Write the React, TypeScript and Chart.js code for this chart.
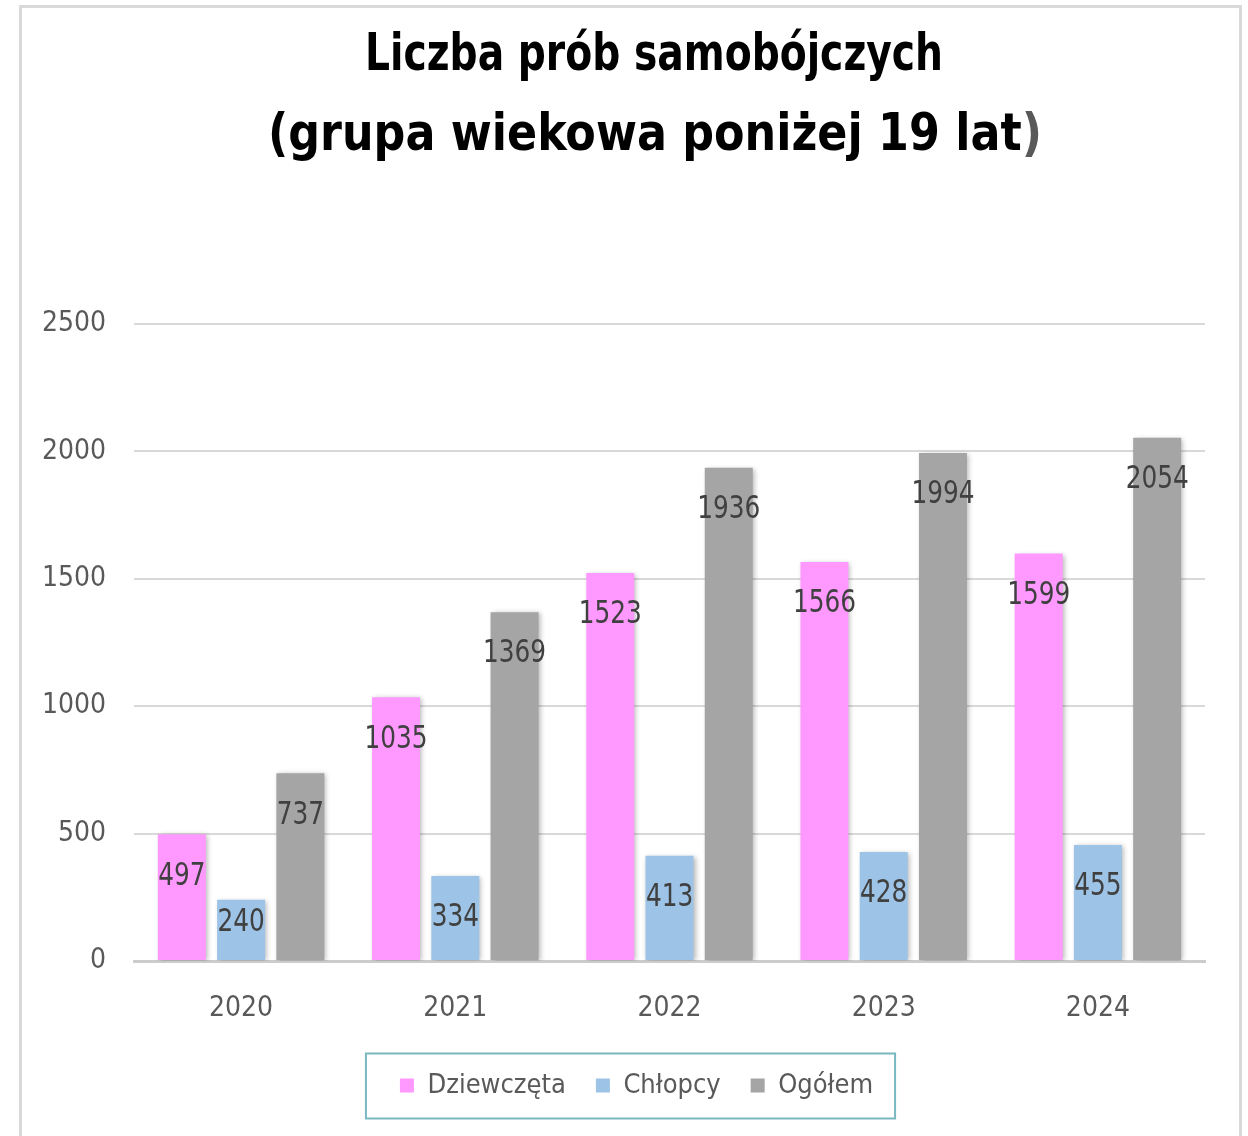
import React, { useEffect, useRef } from "react";
import { Chart, registerables } from "chart.js";

Chart.register(...registerables);

const categories = ["2020", "2021", "2022", "2023", "2024"];
const girls = [497, 1035, 1523, 1566, 1599];
const boys = [240, 334, 413, 428, 455];
const total = [737, 1369, 1936, 1994, 2054];
const seriesNames = ["Dziewczęta", "Chłopcy", "Ogółem"];
const titleLine1 = "Liczba prób samobójczych";
const titleLine2 = "(grupa wiekowa poniżej 19 lat";
const titleLine2End = ")";

const FONT = "'DejaVu Sans Condensed', 'DejaVu Sans', sans-serif";

const framePlugin = {
  id: "frame",
  beforeDraw(chart: any) {
    const ctx = chart.ctx;
    ctx.save();
    ctx.fillStyle = "#ffffff";
    ctx.fillRect(0, 0, chart.width, chart.height);
    ctx.strokeStyle = "#d9d9d9";
    ctx.lineWidth = 3;
    ctx.strokeRect(20.5, 6.5, 1220, chart.height + 20);
    ctx.restore();
  },
  afterLayout(chart: any) {
    const lg = chart.legend;
    if (lg) {
      lg.left += 19;
      lg.right += 19;
    }
  },
  afterDraw(chart: any) {
    const ctx = chart.ctx;
    ctx.save();
    ctx.textBaseline = "middle";
    ctx.textAlign = "left";
    ctx.font = `bold 52px ${FONT}`;
    const w1 = ctx.measureText(titleLine1).width;
    const sx1 = 578 / w1;
    const w2a = ctx.measureText(titleLine2).width;
    const w2b = ctx.measureText(titleLine2End).width;
    const sx2 = 774 / (w2a + w2b);
    ctx.save();
    ctx.translate(654, 56);
    ctx.scale(sx1, 1);
    ctx.fillStyle = "#000000";
    ctx.fillText(titleLine1, -w1 / 2, 0);
    ctx.restore();
    ctx.save();
    ctx.translate(655, 136);
    ctx.scale(sx2, 1);
    const start = -(w2a + w2b) / 2;
    ctx.fillStyle = "#000000";
    ctx.fillText(titleLine2, start, 0);
    ctx.fillStyle = "#595959";
    ctx.fillText(titleLine2End, start + w2a, 0);
    ctx.restore();
    // legend border
    const lg = chart.legend;
    if (lg && lg.legendHitBoxes && lg.legendHitBoxes.length) {
      const boxes = lg.legendHitBoxes;
      const l = boxes[0].left;
      const last = boxes[boxes.length - 1];
      const r = last.left + last.width;
      const cy = boxes[0].top + boxes[0].height / 2;
      ctx.strokeStyle = "#78b8c0";
      ctx.lineWidth = 2;
      ctx.strokeRect(l - 34, cy - 32, r - l + 56, 65);
    }
    ctx.restore();
  },
};

const shadowPlugin = {
  id: "barShadow",
  beforeDatasetsDraw(chart: any) {
    const ctx = chart.ctx;
    ctx.save();
    ctx.shadowColor = "rgba(0,0,0,0.28)";
    ctx.shadowBlur = 5;
    ctx.shadowOffsetX = 2;
    ctx.shadowOffsetY = 1;
  },
  afterDatasetsDraw(chart: any) {
    chart.ctx.restore();
    const ctx = chart.ctx;
    ctx.save();
    ctx.fillStyle = "#404040";
    ctx.textAlign = "left";
    ctx.textBaseline = "middle";
    ctx.font = `32px ${FONT}`;
    const sx = 63 / ctx.measureText("1936").width;
    chart.data.datasets.forEach((ds: any, di: number) => {
      const meta = chart.getDatasetMeta(di);
      meta.data.forEach((el: any, i: number) => {
        const top = el.y;
        const bottom = el.base;
        const y = Math.min(top + 42, bottom - 37);
        const txt = String(ds.data[i]);
        const w = ctx.measureText(txt).width;
        ctx.save();
        ctx.translate(el.x, y);
        ctx.scale(sx, 1);
        ctx.fillText(txt, -w / 2, 0);
        ctx.restore();
      });
    });
    ctx.restore();
  },
};

export default function App() {
  const ref = useRef<HTMLCanvasElement>(null);
  useEffect(() => {
    if (!ref.current) return;
    const chart = new Chart(ref.current, {
      type: "bar",
      data: {
        labels: categories,
        datasets: [
          { label: seriesNames[0], data: girls, backgroundColor: "#ff99ff" },
          { label: seriesNames[1], data: boys, backgroundColor: "#9dc3e6" },
          { label: seriesNames[2], data: total, backgroundColor: "#a5a5a5" },
        ],
      },
      options: {
        animation: false,
        responsive: false,
        maintainAspectRatio: false,
        layout: { padding: { top: 324, left: 30, right: 43, bottom: 27 } },
        datasets: {
          bar: { categoryPercentage: 0.83, barPercentage: 0.81 },
        },
        scales: {
          x: {
            grid: { display: false },
            border: { display: true, color: "#cccccc", width: 3 },
            ticks: { color: "#595959", font: { family: FONT, size: 28 }, padding: 23 },
            afterFit(scale: any) {
              scale.height = 81;
            },
          },
          y: {
            min: 0,
            max: 2500,
            ticks: {
              stepSize: 500,
              color: "#595959",
              font: { family: FONT, size: 28 },
              padding: 28,
              callback: (v: any) => String(v),
            },
            grid: { color: "#d9d9d9", lineWidth: 2, drawTicks: false },
            border: { display: false },
            afterFit(scale: any) {
              scale.width = 104;
            },
          },
        },
        plugins: {
          title: { display: false },
          tooltip: { enabled: false },
          legend: {
            position: "bottom",
            labels: {
              boxWidth: 14,
              boxHeight: 14,
              padding: 30,
              color: "#595959",
              font: { family: FONT, size: 27 },
            },
          },
        },
      },
      plugins: [framePlugin, shadowPlugin],
    });
    return () => chart.destroy();
  }, []);
  return (
    <div style={{ position: "absolute", left: 0, top: 0, width: 1248, height: 1136 }}>
      <canvas ref={ref} width={1248} height={1136} style={{ width: 1248, height: 1136, display: "block" }} />
    </div>
  );
}
